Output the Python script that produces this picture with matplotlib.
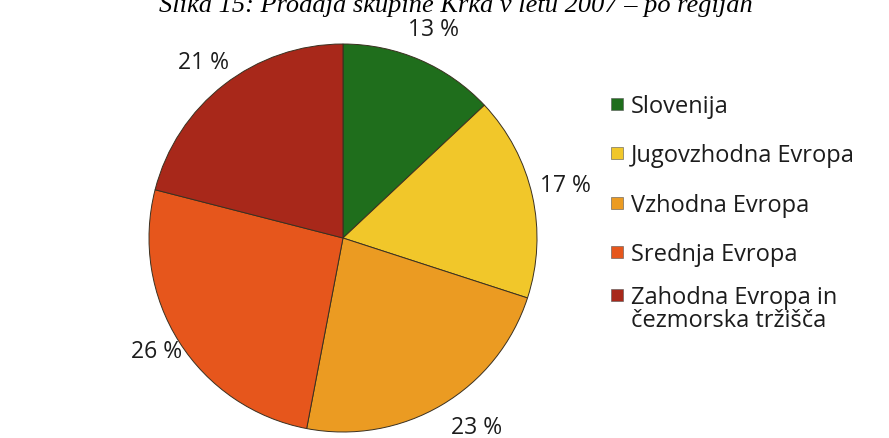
import matplotlib

matplotlib.use("Agg")

import matplotlib.pyplot as plt
from matplotlib.patches import Rectangle

W, H = 889, 439

regions = [
    "Slovenija",
    "Jugovzhodna Evropa",
    "Vzhodna Evropa",
    "Srednja Evropa",
    "Zahodna Evropa in\nčezmorska tržišča",
]
shares = [13, 17, 23, 26, 21]
colors = ["#1f6e1c", "#f1c72a", "#eb9b22", "#e6561c", "#a8281a"]
title = "Slika 15: Prodaja skupine Krka v letu 2007 – po regijah"

# label anchor points (pixels) around the pie, one per slice
label_px = [(433, 30), (565, 186), (477, 428), (157, 352), (203, 63)]


def fx(px):
    return px / W


def fy(py):
    return 1 - py / H


fig = plt.figure(figsize=(W / 100, H / 100), dpi=100)
fig.patch.set_facecolor("white")

# pie axes: centre ~(343, 239) px, radius ~194 px
cx, cy, r = 343, 239, 194
ax = fig.add_axes([fx(cx - r), fy(cy + r), 2 * r / W, 2 * r / H])
wedges, texts = ax.pie(
    shares,
    colors=colors,
    startangle=90,
    counterclock=False,
    labels=[f"{s} %" for s in shares],
    wedgeprops=dict(edgecolor="#3a3020", linewidth=0.7),
    textprops=dict(fontsize=16.5, family="Open Sans", color="#1c1c1c"),
)
for t, (px, py) in zip(texts, label_px):
    t.set_position(((px - cx) / r, (cy - py) / r))
    t.set_ha("center")
    t.set_va("center")
    t.set_clip_on(False)
ax.set_xlim(-1, 1)
ax.set_ylim(-1, 1)
ax.set_aspect("equal")
ax.axis("off")

# title, partly clipped at the top edge
fig.text(fx(456), fy(12), title, ha="center", va="baseline",
         family="Liberation Serif", style="italic", fontsize=19, color="black")

# legend drawn by hand so the two-line entry keeps its marker on the first line
row_y = [105, 154, 204, 253, 296]
line_gap = 23
for label, color, y in zip(regions, colors, row_y):
    fig.patches.append(Rectangle((fx(611), fy(y + 6)), 12 / W, 12 / H,
                                 transform=fig.transFigure, facecolor=color,
                                 edgecolor="#555555", linewidth=0.4))
    for k, line in enumerate(label.split("\n")):
        fig.text(fx(631), fy(y + 8 + k * line_gap), line, ha="left",
                 va="baseline", family="Open Sans", fontsize=17,
                 color="#1c1c1c")

fig.savefig("out.png", dpi=100)
